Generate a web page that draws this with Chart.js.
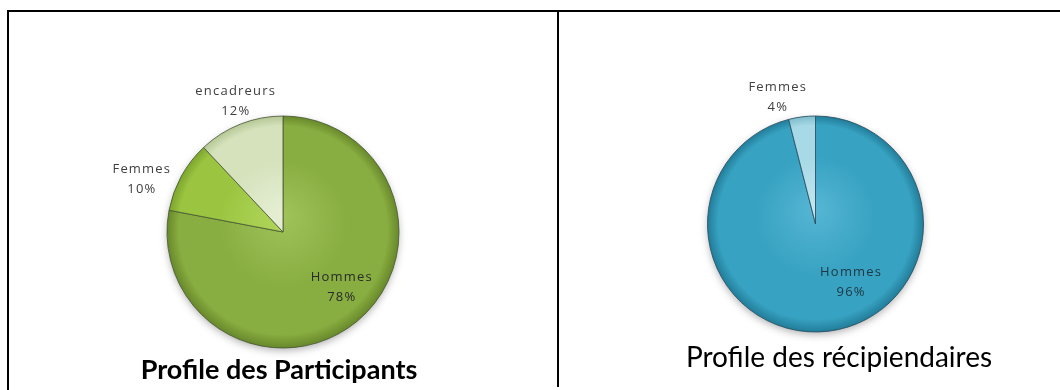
<!DOCTYPE html>
<html>
<head>
<meta charset="utf-8">
<script src="https://cdn.jsdelivr.net/npm/chart.js@4.4.0/dist/chart.umd.min.js"></script>
<style>
  body { margin: 0; background: #fff; width: 1060px; height: 390px; position: relative; overflow: hidden; }
  .rule { position: absolute; background: #000; }
  .box { position: absolute; top: 12px; height: 378px; }
</style>
</head>
<body>
<div class="rule" style="left:8px; top:10px; width:1052px; height:2px;"></div>
<div class="rule" style="left:7px; top:10px; width:2px; height:380px;"></div>
<div class="rule" style="left:557px; top:10px; width:2px; height:377px;"></div>
<div class="box" style="left:10px; width:546px;"><canvas id="participants"></canvas></div>
<div class="box" style="left:560px; width:500px;"><canvas id="recipients"></canvas></div>
<script>
// data
const participantLabels = ['Hommes', 'Femmes', 'encadreurs'];
const participantValues = [78, 10, 12];
const recipientLabels = ['Hommes', 'Femmes'];
const recipientValues = [96, 4];
const participantTitle = 'Profile des Participants';
const recipientTitle = 'Profile des récipiendaires';

// slice fill: [centre, body, rim]
const greens = [
  ['#a0c35a', '#88ad40', '#68882b'],
  ['#b2d75c', '#9bc541', '#7ca52d'],
  ['#e6efd5', '#d5e2bc', '#b6c795']
];
const blues = [
  ['#55b6d3', '#38a2c2', '#217d99'],
  ['#c2e6ef', '#a7d9e6', '#7fbccc']
];

function shaded(palette) {
  return function (c) {
    const area = c.chart.chartArea;
    const p = palette[c.dataIndex];
    if (!area) return p[1];
    const cx = (area.left + area.right) / 2;
    const cy = (area.top + area.bottom) / 2;
    const r = c.dataset.radius;
    const g = c.chart.ctx.createRadialGradient(cx, cy - r * 0.15, 0, cx, cy, r);
    g.addColorStop(0, p[0]);
    g.addColorStop(0.55, p[1]);
    g.addColorStop(0.9, p[1]);
    g.addColorStop(1, p[2]);
    return g;
  };
}

const pieText = {
  id: 'pieText',
  beforeDatasetsDraw(chart) {
    const arc = chart.getDatasetMeta(0).data[0];
    const ctx = chart.ctx;
    ctx.save();
    ctx.shadowColor = 'rgba(0,0,0,0.35)';
    ctx.shadowBlur = 8;
    ctx.shadowOffsetY = 3;
    ctx.fillStyle = '#fff';
    ctx.beginPath();
    ctx.arc(arc.x, arc.y, arc.outerRadius - 1, 0, Math.PI * 2);
    ctx.fill();
    ctx.restore();
  },
  afterDatasetsDraw(chart, args, opts) {
    const ctx = chart.ctx;
    const meta = chart.getDatasetMeta(0);
    const values = chart.data.datasets[0].data;
    const total = values.reduce((a, b) => a + b, 0);
    ctx.save();
    ctx.font = '13px "Open Sans"';
    ctx.letterSpacing = '1.2px';
    ctx.textAlign = 'center';
    ctx.textBaseline = 'middle';
    meta.data.forEach((arc, i) => {
      const p = opts.place[i];
      const mid = (arc.startAngle + arc.endAngle) / 2;
      const d = arc.outerRadius * p.r;
      const x = arc.x + Math.cos(mid) * d + p.dx;
      const y = arc.y + Math.sin(mid) * d + p.dy;
      ctx.fillStyle = p.color;
      ctx.fillText(chart.data.labels[i], x, y - 10);
      ctx.fillText(Math.round(values[i] / total * 100) + '%', x, y + 10);
    });
    ctx.letterSpacing = '0px';
    ctx.font = opts.titleFont;
    ctx.fillStyle = '#000';
    ctx.textBaseline = 'alphabetic';
    ctx.fillText(opts.title, opts.titleX, opts.titleY);
    ctx.restore();
  }
};

function pie(id, labels, values, palette, rimLine, radius, padding, text) {
  return new Chart(document.getElementById(id), {
    type: 'pie',
    data: {
      labels: labels,
      datasets: [{
        data: values,
        radius: radius,
        backgroundColor: shaded(palette),
        borderColor: rimLine,
        borderWidth: 1
      }]
    },
    options: {
      responsive: true,
      maintainAspectRatio: false,
      animation: false,
      events: [],
      layout: { padding: padding },
      plugins: {
        legend: { display: false },
        tooltip: { enabled: false },
        pieText: text
      }
    },
    plugins: [pieText]
  });
}

pie('participants', participantLabels, participantValues, greens, 'rgba(70,85,50,0.8)', 116,
  { left: 0, right: 0, top: 100, bottom: 38 },
  {
    place: [
      { r: 0.70, dx: 7, dy: -7, color: '#2a2a2a' },
      { r: 1.30, dx: -9, dy: 20, color: '#404040' },
      { r: 1.20, dx: 4, dy: -1, color: '#404040' }
    ],
    title: participantTitle,
    titleFont: 'bold 27px Lato',
    titleX: 269,
    titleY: 367
  });

pie('recipients', recipientLabels, recipientValues, blues, 'rgba(40,80,100,0.85)', 108,
  { left: 11, right: 0, top: 100, bottom: 54 },
  {
    place: [
      { r: 0.64, dx: 27, dy: -10, color: '#1f3540' },
      { r: 1.23, dx: -21, dy: 5, color: '#404040' }
    ],
    title: recipientTitle,
    titleFont: '28px Lato',
    titleX: 279,
    titleY: 355
  });
</script>
</body>
</html>
